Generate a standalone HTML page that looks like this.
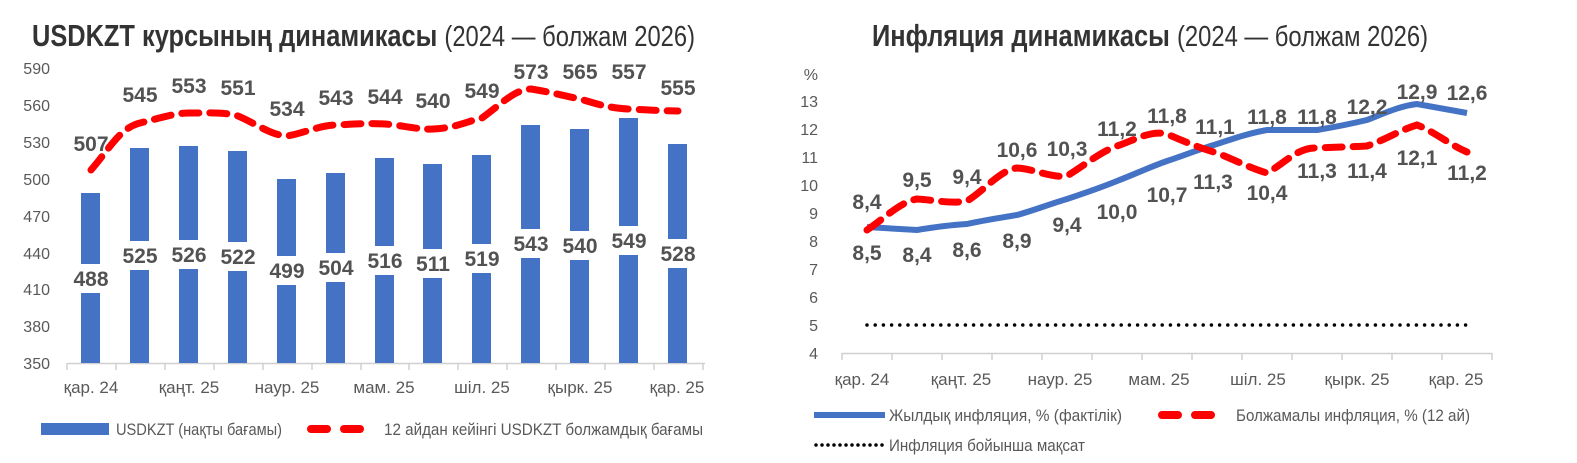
<!DOCTYPE html>
<html><head><meta charset="utf-8"><style>
html,body{margin:0;padding:0;background:#fff;}
svg{display:block;font-family:"Liberation Sans Narrow","Liberation Sans",sans-serif;}
.t{fill:#595959;font-size:16px;}
.lg{fill:#595959;font-size:17px;}
.v{fill:#525252;font-size:21px;font-weight:bold;}
.ttl{fill:#333;font-size:31px;font-weight:bold;}
.sub{fill:#333;font-size:29px;}
</style></head><body>
<svg width="1577" height="463" viewBox="0 0 1577 463" xmlns="http://www.w3.org/2000/svg">
<text x="32" y="46" class="ttl" textLength="663" lengthAdjust="spacingAndGlyphs">USDKZT курсының динамикасы <tspan class="sub" font-weight="normal">(2024 — болжам 2026)</tspan></text>
<g class="t" text-anchor="end">
<text x="50" y="74">590</text><text x="50" y="111">560</text><text x="50" y="148">530</text>
<text x="50" y="185">500</text><text x="50" y="222">470</text><text x="50" y="259">440</text>
<text x="50" y="295">410</text><text x="50" y="332">380</text><text x="50" y="369">350</text>
</g>
<line x1="67" y1="363.5" x2="705" y2="363.5" stroke="#d0d0d0" stroke-width="1.5"/>
<g stroke="#d0d0d0" stroke-width="1.5">
<line x1="67" y1="363" x2="67" y2="370"/><line x1="116" y1="363" x2="116" y2="370"/><line x1="165" y1="363" x2="165" y2="370"/><line x1="214" y1="363" x2="214" y2="370"/><line x1="263" y1="363" x2="263" y2="370"/><line x1="312" y1="363" x2="312" y2="370"/><line x1="361" y1="363" x2="361" y2="370"/><line x1="409" y1="363" x2="409" y2="370"/><line x1="458" y1="363" x2="458" y2="370"/><line x1="507" y1="363" x2="507" y2="370"/><line x1="556" y1="363" x2="556" y2="370"/><line x1="605" y1="363" x2="605" y2="370"/><line x1="654" y1="363" x2="654" y2="370"/><line x1="703" y1="363" x2="703" y2="370"/>
</g>
<g class="lg" text-anchor="middle">
<text x="91" y="393">қар. 24</text><text x="189" y="393">қаңт. 25</text><text x="287" y="393">наур. 25</text>
<text x="384" y="393">мам. 25</text><text x="482" y="393">шіл. 25</text><text x="580" y="393">қырк. 25</text><text x="677" y="393">қар. 25</text>
</g>
<g fill="#4472c4">
<rect x="81" y="193" width="19" height="170"/>
<rect x="130" y="148" width="19" height="215"/>
<rect x="179" y="146" width="19" height="217"/>
<rect x="228" y="151" width="19" height="212"/>
<rect x="277" y="179" width="19" height="184"/>
<rect x="326" y="173" width="19" height="190"/>
<rect x="375" y="158" width="19" height="205"/>
<rect x="423" y="164" width="19" height="199"/>
<rect x="472" y="155" width="19" height="208"/>
<rect x="521" y="125" width="19" height="238"/>
<rect x="570" y="129" width="19" height="234"/>
<rect x="619" y="118" width="19" height="245"/>
<rect x="668" y="144" width="19" height="219"/>
</g>
<g fill="#fff">
<rect x="72" y="264" width="38" height="29"/><rect x="121" y="241" width="38" height="29"/><rect x="170" y="240" width="38" height="29"/><rect x="219" y="242" width="38" height="29"/><rect x="268" y="256" width="38" height="29"/><rect x="317" y="253" width="38" height="29"/><rect x="366" y="246" width="38" height="29"/><rect x="414" y="249" width="38" height="29"/><rect x="463" y="244" width="38" height="29"/><rect x="512" y="229" width="38" height="29"/><rect x="561" y="231" width="38" height="29"/><rect x="610" y="226" width="38" height="29"/><rect x="659" y="239" width="38" height="29"/>
</g>
<g class="v" text-anchor="middle">
<text x="91" y="286">488</text><text x="140" y="263">525</text><text x="189" y="262">526</text><text x="238" y="264">522</text><text x="287" y="278">499</text><text x="336" y="275">504</text><text x="385" y="268">516</text><text x="433" y="271">511</text><text x="482" y="266">519</text><text x="531" y="251">543</text><text x="580" y="253">540</text><text x="629" y="248">549</text><text x="678" y="261">528</text>
</g>
<path d="M91,170 C110,148 120,128 140,123 C160,118 175,113 189,113 C210,113 225,112 238,116 C255,123 270,135 287,136 C305,133 320,125 336,125 C355,124 370,123 385,124 C400,125 420,130 433,129 C455,128 465,122 482,118 C500,105 515,89 531,89 C550,92 565,96 580,99 C600,105 610,108 629,109 C650,110 665,111 678,111" fill="none" stroke="#ff0000" stroke-width="7" stroke-dasharray="17,11" stroke-linecap="round"/>
<g class="v" text-anchor="middle">
<text x="91" y="151">507</text><text x="140" y="102">545</text><text x="189" y="93">553</text><text x="238" y="95">551</text><text x="287" y="116">534</text><text x="336" y="105">543</text><text x="385" y="104">544</text><text x="433" y="108">540</text><text x="482" y="98">549</text><text x="531" y="79">573</text><text x="580" y="79">565</text><text x="629" y="79">557</text><text x="678" y="95">555</text>
</g>
<rect x="41" y="423" width="68" height="12" fill="#4472c4"/>
<text x="116" y="435" class="lg" textLength="166" lengthAdjust="spacingAndGlyphs">USDKZT (нақты бағамы)</text>
<line x1="311" y1="429" x2="377" y2="429" stroke="#ff0000" stroke-width="8" stroke-linecap="round" stroke-dasharray="16,17"/>
<text x="384" y="435" class="lg" textLength="319" lengthAdjust="spacingAndGlyphs">12 айдан кейінгі USDKZT болжамдық бағамы</text>

<text x="872" y="46" class="ttl" textLength="556" lengthAdjust="spacingAndGlyphs">Инфляция динамикасы <tspan class="sub" font-weight="normal">(2024 — болжам 2026)</tspan></text>
<g class="t" text-anchor="end">
<text x="818" y="80">%</text>
<text x="818" y="107">13</text><text x="818" y="135">12</text><text x="818" y="163">11</text><text x="818" y="191">10</text><text x="818" y="219">9</text><text x="818" y="247">8</text><text x="818" y="275">7</text><text x="818" y="303">6</text><text x="818" y="331">5</text><text x="818" y="359">4</text>
</g>
<line x1="842" y1="353.5" x2="1492" y2="353.5" stroke="#d0d0d0" stroke-width="1.5"/>
<g stroke="#d0d0d0" stroke-width="1.5">
<line x1="842" y1="353" x2="842" y2="360"/><line x1="892" y1="353" x2="892" y2="360"/><line x1="942" y1="353" x2="942" y2="360"/><line x1="992" y1="353" x2="992" y2="360"/><line x1="1042" y1="353" x2="1042" y2="360"/><line x1="1092" y1="353" x2="1092" y2="360"/><line x1="1142" y1="353" x2="1142" y2="360"/><line x1="1192" y1="353" x2="1192" y2="360"/><line x1="1242" y1="353" x2="1242" y2="360"/><line x1="1292" y1="353" x2="1292" y2="360"/><line x1="1342" y1="353" x2="1342" y2="360"/><line x1="1392" y1="353" x2="1392" y2="360"/><line x1="1442" y1="353" x2="1442" y2="360"/><line x1="1492" y1="353" x2="1492" y2="360"/>
</g>
<g class="lg" text-anchor="middle">
<text x="862" y="385">қар. 24</text><text x="961" y="385">қаңт. 25</text><text x="1060" y="385">наур. 25</text>
<text x="1159" y="385">мам. 25</text><text x="1258" y="385">шіл. 25</text><text x="1357" y="385">қырк. 25</text><text x="1456" y="385">қар. 25</text>
</g>
<line x1="867" y1="325" x2="1467" y2="325" stroke="#000" stroke-width="3.5" stroke-dasharray="0,8.2" stroke-linecap="round"/>
<path d="M867,227 L917,230 C935,227 950,225 967,224 C985,220 1000,218 1017,215 C1035,210 1050,204 1067,199 C1085,193 1100,188 1117,181 C1135,174 1150,167 1167,161 C1185,155 1200,149 1217,144 C1235,138 1250,133 1267,130 L1317,130 C1335,127 1350,124 1367,120 C1385,113 1400,106 1417,104 L1467,113" fill="none" stroke="#4472c4" stroke-width="6"/>
<path d="M867,230 C885,218 900,202 917,199 C935,200 950,204 967,201 C985,190 1000,170 1017,168 C1035,169 1050,178 1067,176 C1085,165 1100,152 1117,146 C1135,140 1150,130 1167,134 C1185,142 1200,148 1217,153 C1235,160 1250,168 1267,173 C1285,163 1298,147 1317,148 C1335,147 1350,147 1367,146 C1385,140 1400,130 1417,125 C1435,132 1450,145 1467,152" fill="none" stroke="#ff0000" stroke-width="7" stroke-dasharray="17,11" stroke-linecap="round"/>
<g class="v" text-anchor="middle">
<text x="867" y="260">8,5</text><text x="917" y="262">8,4</text><text x="967" y="257">8,6</text><text x="1017" y="248">8,9</text><text x="1067" y="232">9,4</text><text x="1117" y="219">10,0</text><text x="1167" y="202">10,7</text><text x="1213" y="189">11,3</text>
<text x="1267" y="124">11,8</text><text x="1317" y="124">11,8</text><text x="1367" y="114">12,2</text><text x="1417" y="99">12,9</text><text x="1467" y="100">12,6</text>
<text x="867" y="209">8,4</text><text x="917" y="187">9,5</text><text x="967" y="184">9,4</text><text x="1017" y="157">10,6</text><text x="1067" y="156">10,3</text><text x="1117" y="136">11,2</text><text x="1167" y="123">11,8</text><text x="1215" y="134">11,1</text>
<text x="1267" y="200">10,4</text><text x="1317" y="178">11,3</text><text x="1367" y="178">11,4</text><text x="1417" y="165">12,1</text><text x="1467" y="180">11,2</text>
</g>
<line x1="814" y1="415" x2="885" y2="415" stroke="#4472c4" stroke-width="6"/>
<text x="889" y="421" class="lg" textLength="233" lengthAdjust="spacingAndGlyphs">Жылдық инфляция, % (фактілік)</text>
<line x1="1162" y1="415" x2="1228" y2="415" stroke="#ff0000" stroke-width="8" stroke-linecap="round" stroke-dasharray="16,17"/>
<text x="1236" y="421" class="lg" textLength="234" lengthAdjust="spacingAndGlyphs">Болжамалы инфляция, % (12 ай)</text>
<line x1="816" y1="445" x2="884" y2="445" stroke="#000" stroke-width="3.5" stroke-dasharray="0,6" stroke-linecap="round"/>
<text x="889" y="451" class="lg" textLength="196" lengthAdjust="spacingAndGlyphs">Инфляция бойынша мақсат</text>
</svg>
</body></html>
